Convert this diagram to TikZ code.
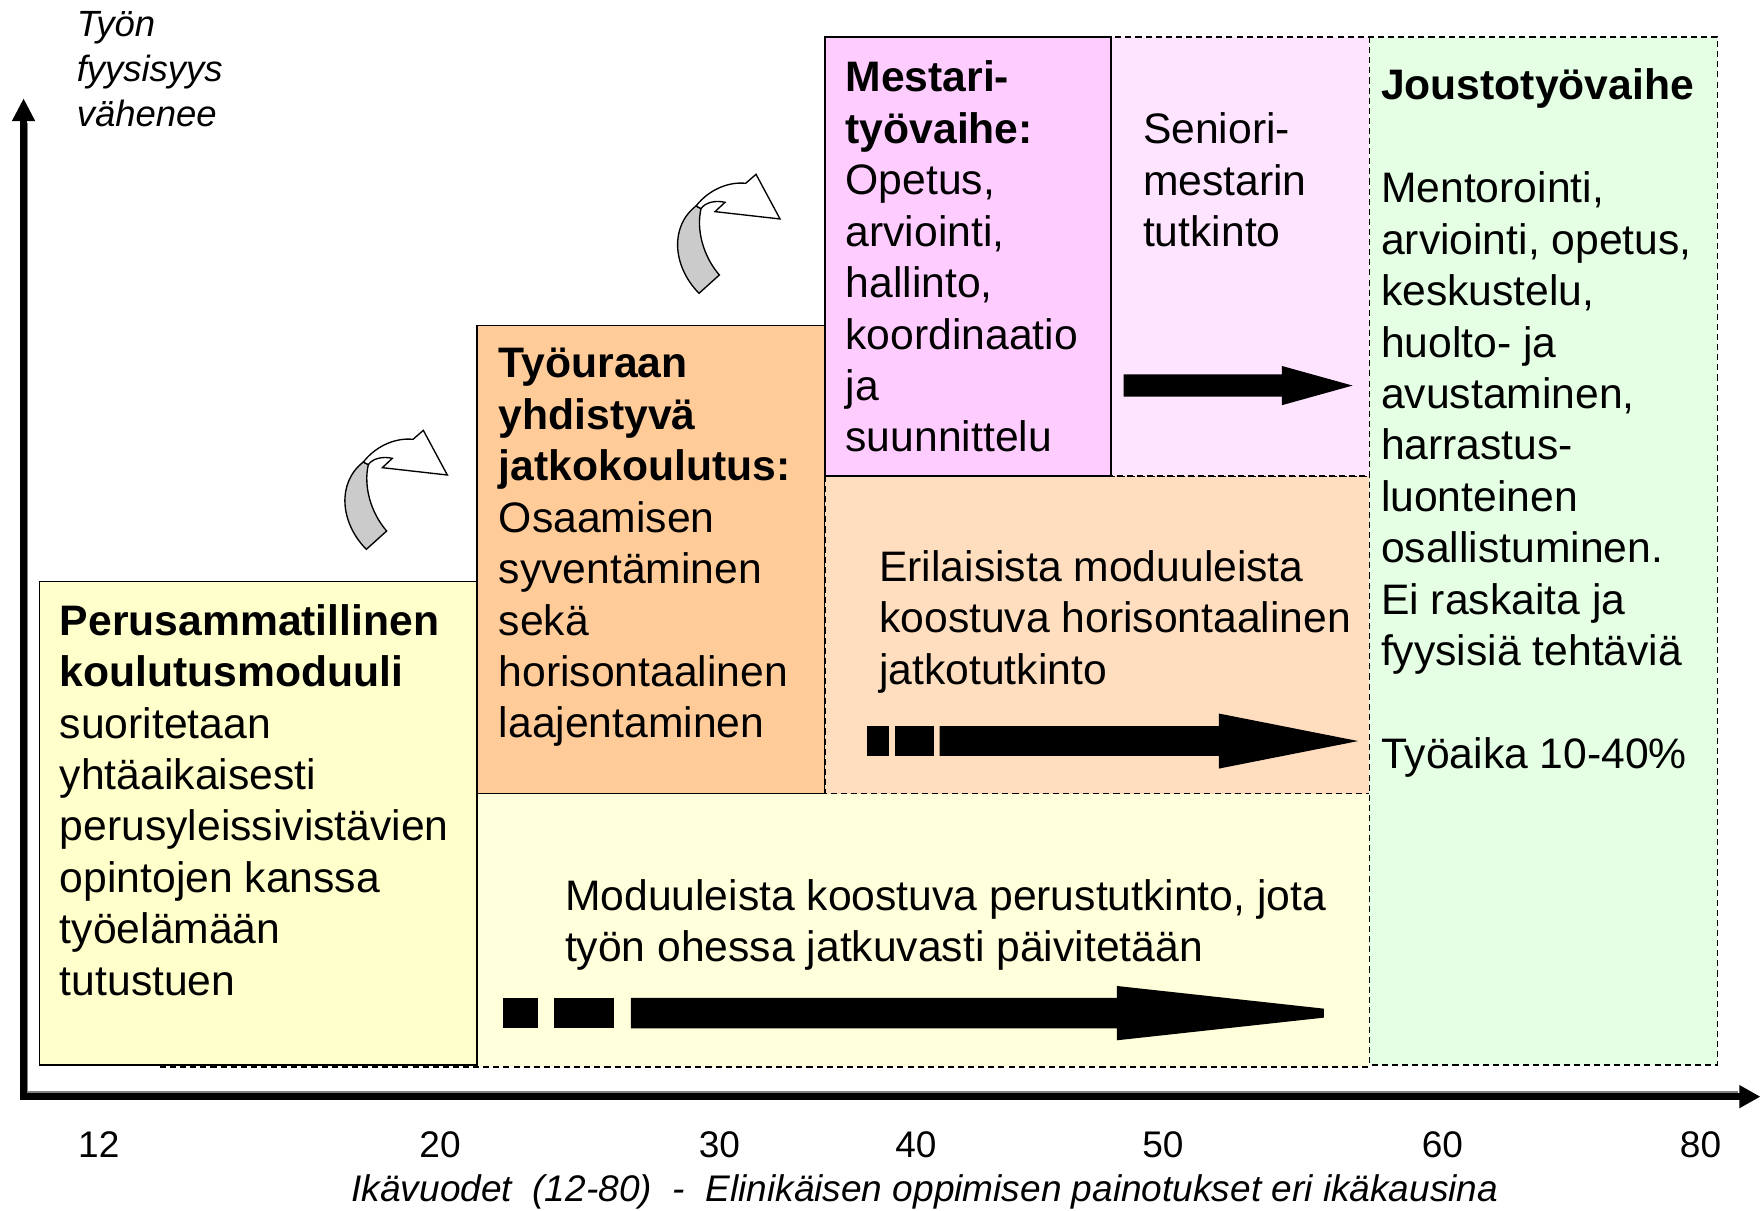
\documentclass[tikz,border=0pt]{standalone}
\usepackage{fontspec}
\setmainfont{Liberation Sans}
\definecolor{yelA}{HTML}{FFFFCC}
\definecolor{yelB}{HTML}{FFFFDB}
\definecolor{orgA}{HTML}{FFCC99}
\definecolor{orgB}{HTML}{FFDEBF}
\definecolor{pinkA}{HTML}{FFCCFF}
\definecolor{pinkB}{HTML}{FFE4FF}
\definecolor{grnA}{HTML}{E4FFE4}
\definecolor{arrgray}{HTML}{CBCBCB}
\newcommand\blockarr[7]{% x0, xhead, xtip, yc, shaft half, head half, tip half
  \fill[black] (#1,#4-#5) -- (#2,#4-#5) -- (#2,#4-#6) -- (#3,#4-#7) -- (#3,#4+#7)
    -- (#2,#4+#6) -- (#2,#4+#5) -- (#1,#4+#5) -- cycle;}
\newcommand\curvarrow{%
  \filldraw[fill=arrgray, draw=black, line width=0.6pt]
    (1197,430) .. controls (1118,350) and (1108,230) .. (1188,168)
    -- (1203,176) .. controls (1188,240) and (1210,320) .. (1258,375) -- cycle;
  \filldraw[fill=white, draw=black, line width=0.6pt, line join=miter]
    (1188,168) .. controls (1230,115) and (1290,95) .. (1337,100)
    -- (1368,73) -- (1440,207) -- (1245,185) -- (1275,157)
    .. controls (1245,150) and (1215,158) .. (1203,176) -- cycle;}
\begin{document}
\begin{tikzpicture}[x=0.5pt,y=-0.5pt,
  solidbox/.style={draw=black, line width=0.7pt},
  dashbox/.style={draw=black, line width=0.7pt, dash pattern=on 2.7pt off 1.8pt},
  txt/.style={anchor=north west, inner sep=0pt, align=left, font=\fontsize{19}{22.9}\selectfont},
  ticklbl/.style={anchor=center, inner sep=0pt, font=\fontsize{16.5}{20}\selectfont}]
\useasboundingbox (0,0) rectangle (1568,1078);

% boxes
\path[fill=yelB, dashbox] (143,707) rectangle (1220,950.5);
\path[fill=yelA, solidbox] (35,518) rectangle (425,949);
\path[fill=orgA, solidbox] (425,290) rectangle (735,707);
\path[fill=orgB, dashbox] (735,424) rectangle (1220,707);
\path[fill=pinkB, dashbox] (990,33) rectangle (1220,424);
\path[fill=pinkA, solidbox] (735,33) rectangle (990,424);
\path[fill=grnA, dashbox] (1220,33) rectangle (1530,949);

% axes
\draw[black, line width=3.25pt] (21,980) -- (21,106);
\fill[black] (10.5,108) -- (21,88) -- (31.5,108) -- cycle;
\draw[black, line width=3.25pt] (17.75,976.7) -- (1551,976.7);
\fill[black] (1549.6,966.6) -- (1568,977) -- (1549.6,987.4) -- cycle;
\draw[gray, line width=0.5pt] (24.8,110) -- (24.8,972.8) -- (1548,972.8);

% block arrows
\blockarr{1001}{1142}{1205}{343.5}{9.9}{17.5}{0}
\fill[black] (772,647) rectangle (792,673.5);
\fill[black] (797,647) rectangle (832,673.5);
\blockarr{837}{1086}{1210}{660.2}{13.3}{24.5}{0}
\fill[black] (448,889) rectangle (479,916);
\fill[black] (494,889) rectangle (547,916);
\blockarr{562}{995}{1179.5}{902.6}{13.5}{24.2}{4}

% curved arrows
\begin{scope}[shift={(267.3,133.6)}, scale=0.29697]
  \curvarrow
\end{scope}
\begin{scope}[shift={(-29.1,361.7)}, scale=0.29697]
  \curvarrow
\end{scope}

% texts
\node[anchor=north west, inner sep=0pt, align=left, font=\fontsize{16.25}{20}\selectfont\itshape]
  (ylab) at (68,10) {Työn\\fyysisyys\\vähenee};

\node[txt] (perus) at (53,538) {\textbf{Perusammatillinen}\\\textbf{koulutusmoduuli}\\suoritetaan\\yhtäaikaisesti\\perusyleissivistävien\\opintojen kanssa\\työelämään\\tutustuen};

\node[txt] (tyour) at (444,310) {\textbf{Työuraan}\\\textbf{yhdistyvä}\\\textbf{jatkokoulutus:}\\Osaamisen\\syventäminen\\sekä\\horisontaalinen\\laajentaminen};

\node[txt] (mest) at (753,54) {\textbf{Mestari-}\\\textbf{työvaihe:}\\Opetus,\\arviointi,\\hallinto,\\koordinaatio\\ja\\suunnittelu};

\node[txt] (sen) at (1018,100) {Seniori-\\mestarin\\tutkinto};

\node[txt] (jousto) at (1230,61) {\textbf{Joustotyövaihe}\\[23pt]Mentorointi,\\arviointi, opetus,\\keskustelu,\\huolto- ja\\avustaminen,\\harrastus-\\luonteinen\\osallistuminen.\\Ei raskaita ja\\fyysisiä tehtäviä\\[23pt]Työaika 10-40\%};

\node[txt] (eril) at (783,490) {Erilaisista moduuleista\\koostuva horisontaalinen\\jatkotutkinto};

\node[txt] (modu) at (503,783) {Moduuleista koostuva perustutkinto, jota\\työn ohessa jatkuvasti päivitetään};

% ticks
\node[ticklbl] (t12) at (88,1020) {12};
\node[ticklbl] (t20) at (392,1020) {20};
\node[ticklbl] (t30) at (641,1020) {30};
\node[ticklbl] (t40) at (816,1020) {40};
\node[ticklbl] (t50) at (1036,1020) {50};
\node[ticklbl] (t60) at (1285,1020) {60};
\node[ticklbl] (t80) at (1515,1020) {80};

\node[anchor=base, inner sep=0pt, font=\fontsize{16.5}{20}\selectfont\itshape] (cap) at (824,1070)
  {Ikävuodet\ \ (12-80)\ \ -\ \ Elinikäisen oppimisen painotukset eri ikäkausina};
\end{tikzpicture}
\end{document}
